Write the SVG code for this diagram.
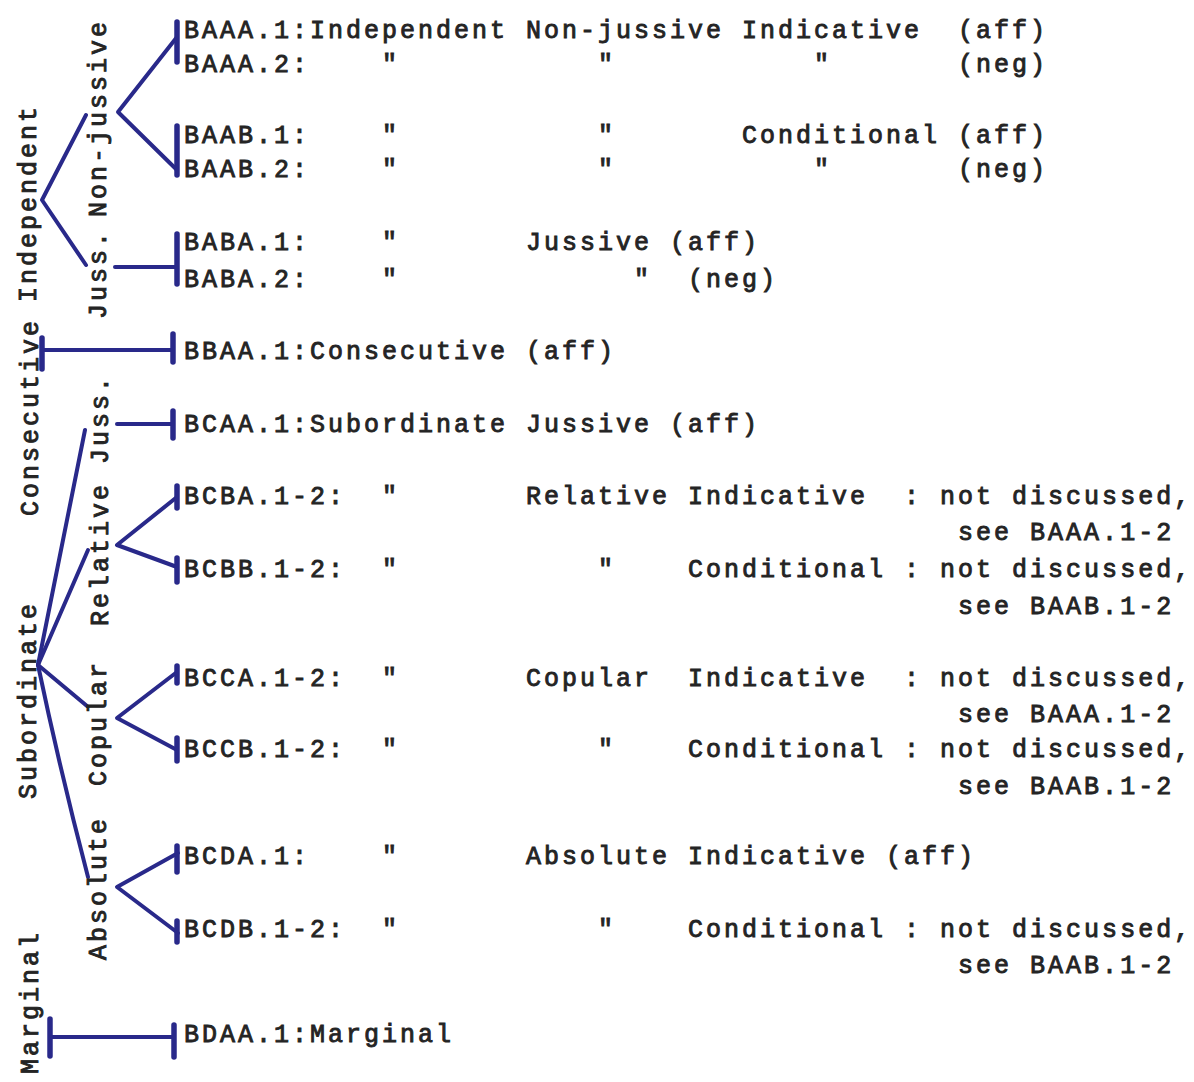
<svg xmlns="http://www.w3.org/2000/svg" width="1194" height="1082" viewBox="0 0 1194 1082">
<style>
.t{font-family:"Liberation Mono","DejaVu Sans Mono",monospace;font-size:25px;letter-spacing:3px;fill:#242424;stroke:#242424;stroke-width:0.9;white-space:pre}
.c{fill:none;stroke:#29298a;stroke-width:4;stroke-linecap:round;stroke-linejoin:round}
.k{fill:none;stroke:#29298a;stroke-width:5.5;stroke-linecap:round}
</style>
<rect width="1194" height="1082" fill="#ffffff"/>
<g id="connectors">
<path class="c" d="M86,115 L42,200 L86,265"/>
<path class="c" d="M177,37 L118,112 L177,170"/>
<path class="c" d="M115,267 L177,267"/>
<path class="k" d="M177,22 L177,62"/>
<path class="k" d="M177,126 L177,175"/>
<path class="k" d="M177,234 L177,284"/>
<path class="c" d="M42,350 L173,350"/>
<path class="k" d="M42,338 L42,369"/>
<path class="k" d="M173,334 L173,362"/>
<path class="c" d="M85,430 L38,665"/>
<path class="c" d="M88,550 L38,665"/>
<path class="c" d="M87,706 L38,665"/>
<path class="c" d="M88,877 Q60,770 38,665"/>
<path class="c" d="M117,424 L173,424"/>
<path class="k" d="M173,411 L173,438"/>
<path class="c" d="M177,497 L117,545 L177,567"/>
<path class="k" d="M177,486 L177,508"/>
<path class="k" d="M177,558 L177,582"/>
<path class="c" d="M177,672 L117,718 L177,750"/>
<path class="k" d="M177,666 L177,683"/>
<path class="k" d="M177,738 L177,761"/>
<path class="c" d="M178,853 L117,887 L178,933"/>
<path class="k" d="M177,846 L177,872"/>
<path class="k" d="M177,921 L177,942"/>
<path class="c" d="M50,1037 L174,1037"/>
<path class="k" d="M50,1019 L50,1056"/>
<path class="k" d="M174,1025 L174,1057"/>
</g>
<g id="labels-vertical">
<text class="t" text-anchor="middle" transform="translate(36,203) rotate(-90)">Independent</text>
<text class="t" text-anchor="middle" transform="translate(106,118) rotate(-90)">Non-jussive</text>
<text class="t" text-anchor="middle" transform="translate(106,274) rotate(-90)">Juss.</text>
<text class="t" text-anchor="middle" transform="translate(38,417) rotate(-90)">Consecutive</text>
<text class="t" text-anchor="middle" transform="translate(108,500) rotate(-90)">Relative Juss.</text>
<text class="t" text-anchor="middle" transform="translate(36,700) rotate(-90)">Subordinate</text>
<text class="t" text-anchor="middle" transform="translate(106,723) rotate(-90)">Copular</text>
<text class="t" text-anchor="middle" transform="translate(106,888) rotate(-90)">Absolute</text>
<text class="t" text-anchor="middle" transform="translate(38,1002) rotate(-90)">Marginal</text>
</g>
<g id="rows">
<text class="t" x="184" y="38" xml:space="preserve">BAAA.1:Independent Non-jussive Indicative  (aff)</text>
<text class="t" x="184" y="72" xml:space="preserve">BAAA.2:    "           "           "       (neg)</text>
<text class="t" x="184" y="143" xml:space="preserve">BAAB.1:    "           "       Conditional (aff)</text>
<text class="t" x="184" y="177" xml:space="preserve">BAAB.2:    "           "           "       (neg)</text>
<text class="t" x="184" y="250" xml:space="preserve">BABA.1:    "       Jussive (aff)</text>
<text class="t" x="184" y="287" xml:space="preserve">BABA.2:    "             "  (neg)</text>
<text class="t" x="184" y="359" xml:space="preserve">BBAA.1:Consecutive (aff)</text>
<text class="t" x="184" y="432" xml:space="preserve">BCAA.1:Subordinate Jussive (aff)</text>
<text class="t" x="184" y="504" xml:space="preserve">BCBA.1-2:  "       Relative Indicative  : not discussed,</text>
<text class="t" x="184" y="540" xml:space="preserve">                                           see BAAA.1-2</text>
<text class="t" x="184" y="577" xml:space="preserve">BCBB.1-2:  "           "    Conditional : not discussed,</text>
<text class="t" x="184" y="614" xml:space="preserve">                                           see BAAB.1-2</text>
<text class="t" x="184" y="686" xml:space="preserve">BCCA.1-2:  "       Copular  Indicative  : not discussed,</text>
<text class="t" x="184" y="722" xml:space="preserve">                                           see BAAA.1-2</text>
<text class="t" x="184" y="757" xml:space="preserve">BCCB.1-2:  "           "    Conditional : not discussed,</text>
<text class="t" x="184" y="794" xml:space="preserve">                                           see BAAB.1-2</text>
<text class="t" x="184" y="864" xml:space="preserve">BCDA.1:    "       Absolute Indicative (aff)</text>
<text class="t" x="184" y="937" xml:space="preserve">BCDB.1-2:  "           "    Conditional : not discussed,</text>
<text class="t" x="184" y="973" xml:space="preserve">                                           see BAAB.1-2</text>
<text class="t" x="184" y="1042" xml:space="preserve">BDAA.1:Marginal</text>
</g>
</svg>
